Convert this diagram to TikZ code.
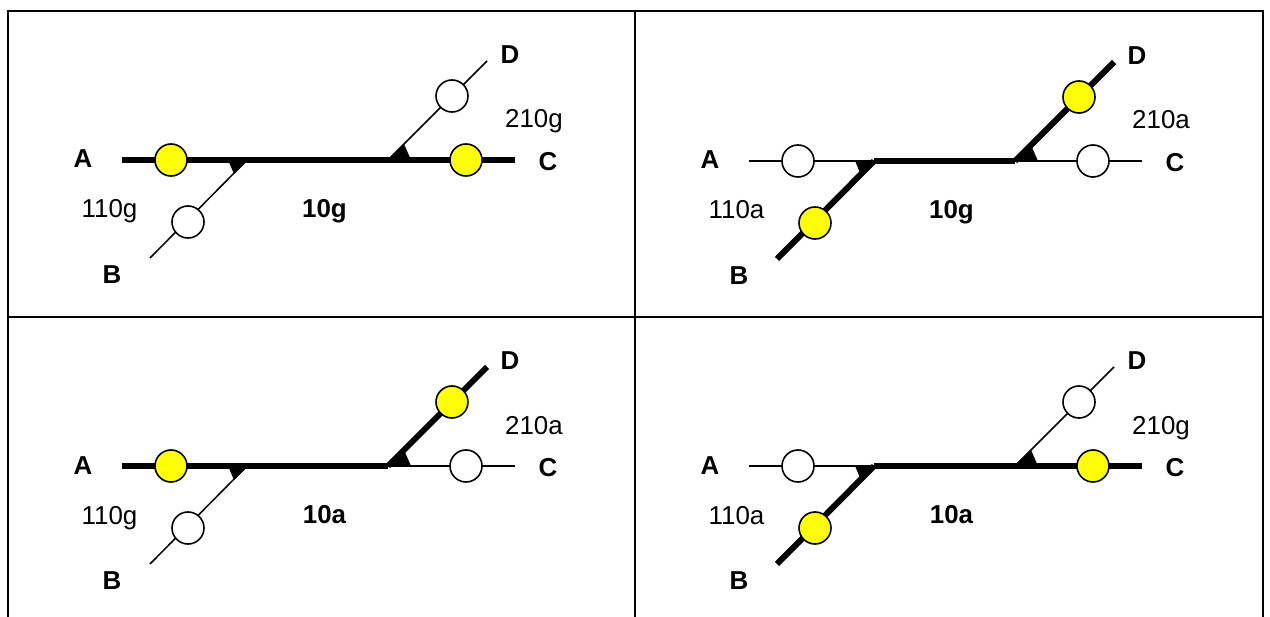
\documentclass[tikz,border=0pt]{standalone}
\usepackage{fontspec}
\setmainfont{Liberation Sans}
\definecolor{sigyellow}{RGB}{255,255,0}
\def\sfxon{g}
\def\sfxoff{a}
\tikzset{
  lnon/.style={line width=6bp, line cap=butt},
  lnoff/.style={line width=1.5bp},
  ptbase/.style={circle, draw=black, line width=1.6bp, minimum size=32bp, inner sep=0pt},
  pton/.style={ptbase, fill=sigyellow},
  ptoff/.style={ptbase, fill=white},
  lbl/.style={font=\fontsize{26}{31}\selectfont, anchor=base, inner sep=0pt},
  blbl/.style={lbl, font=\fontsize{26}{31}\selectfont\bfseries},
  frame/.style={line width=2bp, line cap=rect},
}
% #1 prefix, #2 xoff, #3 yoff, #4 A, #5 B, #6 C, #7 D (on/off), #8 main suffix
\newcommand{\trackpanel}[8]{%
\begin{scope}[shift={(#2,#3)}]
  \coordinate (#1-a) at (122,160);
  \coordinate (#1-j1) at (247,160);
  \coordinate (#1-j2) at (388,160);
  \coordinate (#1-c) at (515,160);
  \coordinate (#1-b) at (150,258);
  \coordinate (#1-d) at (487,61);
  \draw[ln#4] (#1-a) -- (#1-j1);
  \draw[lnon] (#1-j1) -- (#1-j2);
  \draw[ln#5] (#1-j1) -- (#1-b);
  \draw[ln#6] (#1-j2) -- (#1-c);
  \draw[ln#7] (#1-j2) -- (#1-d);
  \fill (228,160) -- (248,160) -- (234,174) -- cycle;
  \fill (387,160) -- (411,160) -- (404,144) -- cycle;
  \node[pt#4] (#1-pa) at (171,160) {};
  \node[pt#5] (#1-pb) at (188,222) {};
  \node[pt#6] (#1-pc) at (466,160) {};
  \node[pt#7] (#1-pd) at (452,96) {};
  \node[blbl] (#1-la) at (83,168) {A};
  \node[blbl] (#1-lb) at (112,283.5) {B};
  \node[blbl] (#1-lc) at (548,170.5) {C};
  \node[blbl] (#1-ld) at (510,63.5) {D};
  \node[lbl] (#1-l1) at (109.5,218) {110\csname sfx#4\endcsname};
  \node[blbl] (#1-l0) at (324.5,217.5) {10#8};
  \node[lbl] (#1-l2) at (534,128) {210\csname sfx#6\endcsname};
\end{scope}}
\begin{document}
\begin{tikzpicture}[x=1bp, y=-1bp]
  \useasboundingbox (0,0) rectangle (1270,617);
  \fill[white] (0,0) rectangle (1270,617);
  \draw[frame] (8,11) -- (1263,11);
  \draw[frame] (8,317) -- (1263,317);
  \draw[frame] (8,11) -- (8,620);
  \draw[frame] (635,11) -- (635,620);
  \draw[frame] (1263,11) -- (1263,620);
  \trackpanel{tl}{0}{0}{on}{off}{on}{off}{g}
  \trackpanel{tr}{627}{1}{off}{on}{off}{on}{g}
  \trackpanel{bl}{0}{306}{on}{off}{off}{on}{a}
  \trackpanel{br}{627}{306}{off}{on}{on}{off}{a}
\end{tikzpicture}
\end{document}
